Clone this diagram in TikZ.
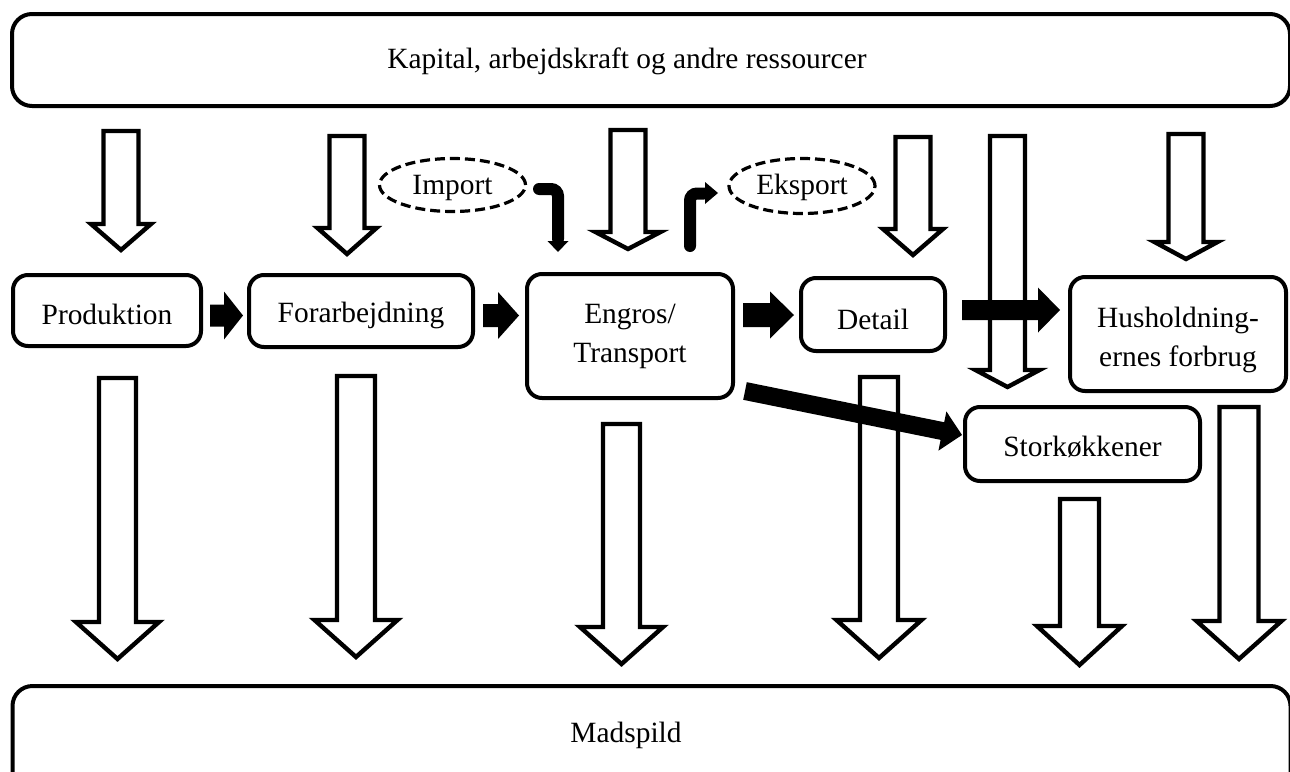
\documentclass[tikz,border=0pt]{standalone}
\usepackage{fontspec}
\setmainfont{Liberation Serif}
\usetikzlibrary{calc,shapes.geometric}
\newcommand\blockarr[6]{%
  \coordinate (bahead) at ($(#3)!#5!(#2)$);
  \path[#1] ($(#2)!#4!90:(#3)$) -- ($(bahead)!#4!-90:(#2)$) -- ($(bahead)!#6!-90:(#2)$) -- (#3)
    -- ($(bahead)!#6!90:(#2)$) -- ($(bahead)!#4!90:(#2)$) -- ($(#2)!#4!-90:(#3)$) -- cycle;}
\begin{document}
\begin{tikzpicture}[x=0.5pt,y=-0.5pt,
  font=\fontsize{14.7}{19.5}\selectfont,
  box/.style={draw, line width=2pt, rounded corners=7.5pt, inner sep=0pt, align=center},
  bigbox/.style={draw, line width=2pt, rounded corners=10pt, inner sep=0pt},
  ell/.style={draw, ellipse, dash pattern=on 5pt off 2.5pt, line width=1.6pt, inner sep=0pt},
  hollow/.style={draw, fill=white, line width=2.2pt, line join=miter, miter limit=10},
  blackarr/.style={fill=black},
  bentarr/.style={line width=6pt, line cap=round, rounded corners=3.5pt},
  tb/.style={text height=#1, text depth=0pt}]
\useasboundingbox (0,0) rectangle (1290,771);
\clip (0,0) rectangle (1290,771);
\fill[white] (0,0) rectangle (1290,771);

% big boxes
\node[bigbox, minimum width=639pt, minimum height=46pt] (res) at (651,60) {};
\node[anchor=base west, inner sep=0pt] (restxt) at (387,68) {Kapital, arbejdskraft og andre ressourcer};
\node[bigbox, minimum width=639pt, minimum height=56pt] (spild) at (651.5,742) {};
\node[anchor=base, inner sep=0pt] (spildtxt) at (626,742) {Madspild};

% coordinates of hollow arrows
\coordinate (u1s) at (121,131);    \coordinate (u1e) at (121,250);
\coordinate (u2s) at (347,136);    \coordinate (u2e) at (347,254);
\coordinate (u3s) at (628,130);    \coordinate (u3e) at (628,249);
\coordinate (u4s) at (913,137);    \coordinate (u4e) at (913,255);
\coordinate (u5s) at (1007.5,136); \coordinate (u5e) at (1007.5,387);
\coordinate (u6s) at (1186,134);   \coordinate (u6e) at (1186,259);
\coordinate (w1s) at (117.5,378);  \coordinate (w1e) at (117.5,659);
\coordinate (w2s) at (356,376);    \coordinate (w2e) at (356,657);
\coordinate (w3s) at (621.5,424);  \coordinate (w3e) at (621.5,664);
\coordinate (w4s) at (879,377);    \coordinate (w4e) at (879,658);
\coordinate (w5s) at (1079.5,499); \coordinate (w5e) at (1079.5,665);
\coordinate (w6s) at (1239,407);   \coordinate (w6e) at (1239,659);

\blockarr{hollow}{u1s}{u1e}{8.75pt}{13pt}{15pt}
\blockarr{hollow}{u2s}{u2e}{8.75pt}{13pt}{14.75pt}
\blockarr{hollow}{u3s}{u3e}{8.75pt}{8.5pt}{16.25pt}
\blockarr{hollow}{u4s}{u4e}{8.75pt}{13pt}{15pt}
\blockarr{hollow}{u5s}{u5e}{8.75pt}{8.5pt}{16pt}
\blockarr{hollow}{u6s}{u6e}{8.75pt}{8.5pt}{15.75pt}
\blockarr{hollow}{w1s}{w1e}{9.25pt}{18.5pt}{20.75pt}
\blockarr{hollow}{w2s}{w2e}{9.5pt}{18.5pt}{20.75pt}
\blockarr{hollow}{w3s}{w3e}{9.25pt}{18.5pt}{20.75pt}
\blockarr{hollow}{w4s}{w4e}{9.5pt}{19pt}{21.25pt}
\blockarr{hollow}{w5s}{w5e}{9.75pt}{19.5pt}{21.25pt}
\blockarr{hollow}{w6s}{w6e}{9.75pt}{19pt}{21.25pt}

% process boxes
\node[box, tb=13.5pt, minimum width=94pt, minimum height=35.5pt] (prod) at (107,310.5) {Produktion};
\node[box, tb=11pt, minimum width=112pt, minimum height=36pt] (forarb) at (361,311) {Forarbejdning};
\node[box, minimum width=103pt, minimum height=62pt] (engros) at (630,336) {Engros/\\Transport};
\node[box, tb=14.5pt, minimum width=72pt, minimum height=36.5pt] (detail) at (873,314.5) {Detail};
\node[box, text height=36pt, text depth=3.2pt, minimum width=108pt, minimum height=57pt] (hus) at (1178,334) {Husholdning-\\ernes forbrug};
\node[box, tb=12pt, minimum width=117.5pt, minimum height=37pt] (stork) at (1082.5,444) {Storkøkkener};
\node[ell, tb=9pt, minimum width=73pt, minimum height=26.5pt] (imp) at (452.5,185) {Import};
\node[ell, tb=8pt, minimum width=73pt, minimum height=27.5pt] (eks) at (802,186) {Eksport};

% black block arrows
\coordinate (b1s) at (210,315.5); \coordinate (b1e) at (243,315.5);
\coordinate (b2s) at (483,315.5); \coordinate (b2e) at (519,315.5);
\coordinate (b3s) at (743,315);   \coordinate (b3e) at (794,315);
\coordinate (b4s) at (962,310);   \coordinate (b4e) at (1060,310);
\coordinate (b5s) at (745,391);   \coordinate (b5e) at (962,435);
\blockarr{blackarr}{b1s}{b1e}{5.5pt}{9.5pt}{12pt}
\blockarr{blackarr}{b2s}{b2e}{5.75pt}{10.5pt}{11.75pt}
\blockarr{blackarr}{b3s}{b3e}{6pt}{12pt}{11.75pt}
\blockarr{blackarr}{b4s}{b4e}{5pt}{11pt}{11.25pt}
\blockarr{blackarr}{b5s}{b5e}{4.5pt}{10pt}{10pt}

% bent arrows
\coordinate (ims) at (539,189); \coordinate (ime) at (558,239);
\draw[bentarr] (ims) -- (558,189) -- (ime);
\coordinate (imtip) at (558,252);
\fill (547.5,241) -- (568.5,241) -- (imtip) -- cycle;
\coordinate (eks0) at (690,246); \coordinate (eks1) at (704,193.5);
\draw[bentarr] (eks0) -- (690,193.5) -- (eks1);
\coordinate (ektip) at (718,193);
\fill (705,182) -- (ektip) -- (705,204) -- cycle;
\end{tikzpicture}
\end{document}
